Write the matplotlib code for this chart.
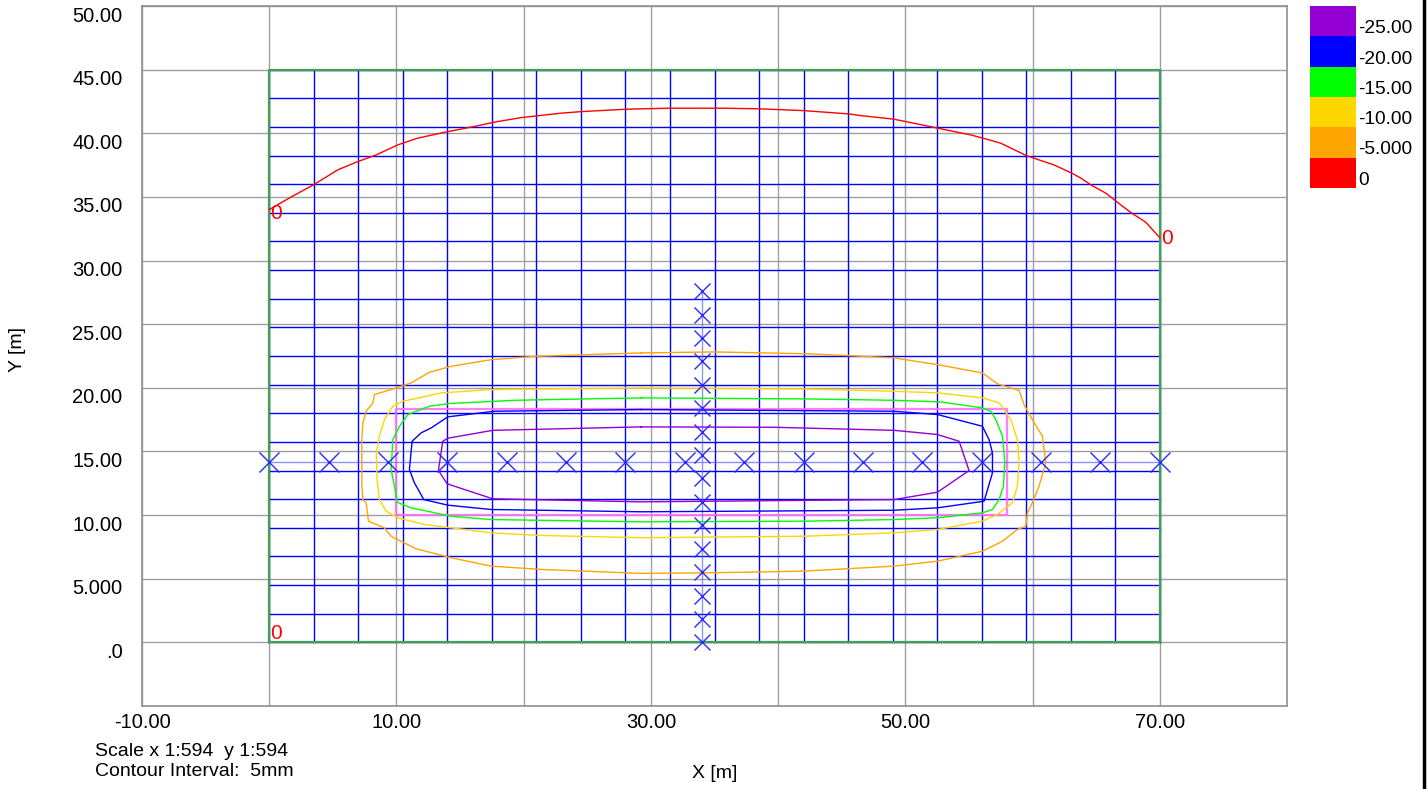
import matplotlib
matplotlib.use("Agg")
import matplotlib.pyplot as plt
import matplotlib.transforms as mtransforms
from matplotlib.lines import Line2D
from matplotlib.patches import Rectangle

plt.rcParams['font.family'] = ['Liberation Sans', 'DejaVu Sans']

# ---------------- data ----------------
# mesh grid lines (m)
mesh_x = [0, 3.5, 7, 10.5, 14, 17.5, 21, 24.5, 28, 31.5, 35, 38.5, 42, 45.5, 49,
          52.5, 56, 59.5, 63, 66.5, 70]
mesh_y = [0, 2.25, 4.5, 6.75, 9, 11.25, 13.5, 15.75, 18, 20.25, 22.5, 24.75, 27,
          29.25, 31.5, 33.75, 36, 38.25, 40.5, 42.75, 45]

# contour levels and colours
levels = [-25, -20, -15, -10, -5, 0]
level_labels = ['-25.00', '-20.00', '-15.00', '-10.00', '-5.000', '0']
level_colors = ['#9400D3', '#0000FF', '#00FF00', '#FFD700', '#FFA500', '#FF0000']

# contour 0 (red)
c0_x = [0.0, 1.73, 3.48, 5.40, 6.97, 8.41, 10.11, 11.68, 14.04, 16.10, 17.67, 19.80,
        22.94, 24.51, 28.04, 31.50, 35.74, 38.57, 42.03, 45.56, 46.50, 49.07, 50.04,
        52.55, 55.15, 56.09, 57.50, 59.55, 61.67, 63.08, 63.79, 64.57, 65.75, 66.59,
        67.71, 68.89, 70.0]
c0_y = [34.0, 35.0, 35.95, 37.13, 37.78, 38.30, 39.09, 39.62, 40.13, 40.53, 40.87, 41.23,
        41.58, 41.70, 41.89, 41.97, 41.97, 41.92, 41.78, 41.52, 41.39, 41.11, 40.92,
        40.40, 39.87, 39.62, 39.22, 38.23, 37.52, 36.87, 36.48, 35.95, 35.30, 34.64,
        33.78, 33.02, 31.8]

# contour -5 (orange)
c5_x = [29.22, 34.98, 42.05, 45.59, 49.12, 52.53, 56.06, 57.24, 58.94, 59.33, 59.99,
        60.78, 61.04, 60.51, 59.99, 59.60, 59.47, 58.81, 57.64, 56.06, 52.53, 49.12,
        42.05, 34.98, 29.22, 21.37, 17.44, 14.30, 11.55, 9.58, 9.06, 7.80, 7.62, 7.36,
        7.28, 7.28, 7.36, 7.62, 8.15, 8.27, 9.98, 11.15, 12.59, 14.30, 17.44, 20.84, 29.22]
c5_y = [22.74, 22.82, 22.68, 22.53, 22.35, 21.82, 21.17, 20.31, 19.80, 18.68, 17.50,
        16.19, 14.11, 12.27, 10.97, 10.18, 9.13, 8.87, 7.95, 7.16, 6.38, 5.99,
        5.60, 5.47, 5.42, 5.73, 5.99, 6.65, 7.35, 8.34, 9.00, 9.52, 10.97, 11.22,
        12.27, 15.93, 17.24, 18.16, 18.81, 19.47, 19.99, 20.38, 21.22, 21.69, 22.21, 22.47, 22.74]

# contour -10 (yellow)
c10_x = [29.22, 42.05, 49.12, 52.53, 56.06, 57.37, 58.29, 58.81, 58.94, 58.81, 58.42,
         57.24, 56.06, 52.53, 49.12, 42.05, 29.22, 21.37, 17.44, 12.20, 10.11, 9.19,
         8.66, 8.48, 8.41, 8.66, 9.06, 9.72, 10.50, 13.51, 17.44, 21.37, 29.22]
c10_y = [19.99, 19.91, 19.73, 19.60, 19.21, 18.82, 17.50, 15.93, 14.11, 12.27, 10.97,
         10.05, 9.52, 8.87, 8.61, 8.34, 8.22, 8.40, 8.61, 9.26, 9.79, 10.31,
         11.22, 12.79, 14.89, 16.19, 17.50, 18.55, 18.94, 19.60, 19.86, 19.91, 19.99]

# contour -15 (green)
c15_x = [29.22, 42.05, 49.12, 52.78, 56.06, 56.72, 57.11, 57.64, 57.82, 57.71, 57.37,
         56.85, 56.06, 52.53, 49.12, 42.05, 29.22, 17.44, 14.30, 11.15, 10.06, 9.84,
         9.58, 9.72, 10.24, 10.90, 12.59, 14.04, 19.27, 29.22]
c15_y = [19.21, 19.13, 19.02, 18.89, 18.42, 18.16, 17.50, 16.19, 14.11, 12.27, 11.22,
         10.44, 10.18, 9.79, 9.65, 9.52, 9.47, 9.65, 9.91, 10.57, 11.01, 12.27,
         13.58, 15.93, 16.98, 17.90, 18.55, 18.76, 19.02, 19.21]

# contour -20 (blue)
c20_x = [29.22, 49.12, 52.53, 56.06, 56.58, 56.85, 56.85, 56.19, 52.53, 49.12, 29.22,
         17.44, 14.04, 12.15, 11.41, 11.02, 11.23, 11.94, 12.73, 14.04, 17.70, 29.22]
c20_y = [18.29, 18.16, 17.90, 16.98, 15.93, 14.89, 13.32, 11.09, 10.57, 10.38, 10.26,
         10.44, 10.78, 11.22, 12.54, 13.58, 15.80, 16.46, 16.85, 17.72, 18.16, 18.29]

# contour -25 (purple)
c25_x = [29.22, 39.69, 49.12, 52.53, 54.23, 55.01, 52.53, 49.12, 29.22, 17.57, 13.98,
         13.30, 13.64, 14.04, 17.57, 29.22]
c25_y = [16.93, 16.90, 16.66, 16.33, 15.80, 13.50, 11.80, 11.22, 11.04, 11.28, 12.46,
         13.52, 15.80, 16.04, 16.66, 16.93]

# building outline (pink rectangle)
bldg_x = [10.0, 58.0, 58.0, 10.0, 10.0]
bldg_y = [10.0, 10.0, 18.3, 18.3, 10.0]

# measurement points
row_x = [0, 4.67, 9.33, 14.0, 18.67, 23.33, 28.0, 32.67, 37.33, 42.0, 46.67, 51.33,
         56.0, 60.67, 65.33, 70.0]
row_y = [14.15] * len(row_x)
col_y = [0, 1.84, 3.68, 5.52, 7.36, 9.2, 11.04, 12.88, 14.72, 16.56, 18.4, 20.24,
         22.08, 23.92, 25.76, 27.6]
col_x = [34.0] * len(col_y)

# contour labels
zero_labels = [(0.1, 33.7), (70.1, 31.7), (0.1, 0.7)]

xticks = [-10, 0, 10, 20, 30, 40, 50, 60, 70, 80]
xticklabels = ['-10.00', '', '10.00', '', '30.00', '', '50.00', '', '70.00', '']
yticks = [-5, 0, 5, 10, 15, 20, 25, 30, 35, 40, 45, 50]
yticklabels = ['', '.0', '5.000', '10.00', '15.00', '20.00', '25.00', '30.00',
               '35.00', '40.00', '45.00', '50.00']

# ---------------- figure ----------------
W, H = 1427, 789
fig = plt.figure(figsize=(W / 100, H / 100), dpi=100)
ax = fig.add_axes([142 / W, 1 - 706 / H, (1287 - 142) / W, (706 - 6) / H])
ax.set_xlim(-10, 80)
ax.set_ylim(-5, 50)

ax.set_xticks(xticks)
ax.set_xticklabels(xticklabels, fontsize=14.5)
ax.set_yticks(yticks)
ax.set_yticklabels(yticklabels, fontsize=14.5)
ax.tick_params(length=0)
ax.tick_params(axis='x', pad=5)
ax.tick_params(axis='y', pad=14)
off = mtransforms.ScaledTranslation(0, -8 / 100, fig.dpi_scale_trans)
for lbl in ax.get_yticklabels():
    lbl.set_transform(lbl.get_transform() + off)
ax.grid(True, color='#a0a0a0', linewidth=1.0, zorder=0)
for s in ax.spines.values():
    s.set_color('#909090')
    s.set_linewidth(1.2)

# mesh
for xv in mesh_x:
    ax.plot([xv, xv], [mesh_y[0], mesh_y[-1]], color='#0000FF', lw=1.0, zorder=2)
for yv in mesh_y:
    ax.plot([mesh_x[0], mesh_x[-1]], [yv, yv], color='#0000FF', lw=1.0, zorder=2)
ax.plot([mesh_x[0], mesh_x[-1], mesh_x[-1], mesh_x[0], mesh_x[0]],
        [mesh_y[0], mesh_y[0], mesh_y[-1], mesh_y[-1], mesh_y[0]],
        color='#3FA34D', lw=1.6, zorder=3)

# building
ax.plot(bldg_x, bldg_y, color='#FF66FF', lw=1.6, alpha=0.85, zorder=3)

# measurement lines & points
ax.plot(row_x, row_y, color='#6060FF', lw=1.0, alpha=0.7, zorder=3)
ax.plot(col_x, col_y, color='#6060FF', lw=1.0, alpha=0.7, zorder=3)
ax.plot(row_x, row_y, linestyle='none', marker='x', markersize=14, mew=1.0,
        color='#2a2aff', zorder=5)
ax.plot(col_x, col_y, linestyle='none', marker='x', markersize=12, mew=1.0,
        color='#2a2aff', zorder=5)

# contours
ax.plot(c0_x, c0_y, color=level_colors[5], lw=1.0, zorder=4)
ax.plot(c5_x, c5_y, color=level_colors[4], lw=1.0, zorder=4)
ax.plot(c10_x, c10_y, color=level_colors[3], lw=1.0, zorder=4)
ax.plot(c15_x, c15_y, color=level_colors[2], lw=1.0, zorder=4)
ax.plot(c20_x, c20_y, color=level_colors[1], lw=1.0, zorder=4)
ax.plot(c25_x, c25_y, color=level_colors[0], lw=1.0, zorder=4)

for (lx, ly) in zero_labels:
    ax.text(lx, ly, '0', color='#FF0000', fontsize=15, ha='left', va='center', zorder=6)

# legend colour boxes
box_left, box_right = 1310 / W, 1356 / W
top = 1 - 6 / H
bh = 30.3 / H
for i, (c, lab) in enumerate(zip(level_colors, level_labels)):
    y0 = top - (i + 1) * bh
    fig.patches.append(Rectangle((box_left, y0), box_right - box_left, bh,
                                 transform=fig.transFigure, facecolor=c,
                                 edgecolor='none'))
    fig.text(1358 / W, y0 - 1 / H, lab, fontsize=13.8, ha='left', va='bottom')

# axis titles / notes
fig.text(18 / W, 1 - 349 / H, 'Y [m]', rotation=90, fontsize=14, ha='center', va='center')
fig.text(715 / W, 1 - 773 / H, 'X [m]', fontsize=14, ha='center', va='center')
fig.text(95 / W, 1 - 751 / H, 'Scale x 1:594  y 1:594', fontsize=14.0, ha='left', va='center')
fig.text(95 / W, 1 - 771 / H, 'Contour Interval:  5mm', fontsize=14.0, ha='left', va='center')

# right border line
fig.add_artist(Line2D([1424 / W, 1424 / W], [0, 1], transform=fig.transFigure,
                      color='black', lw=2.5))

fig.savefig('out.png', dpi=100)
